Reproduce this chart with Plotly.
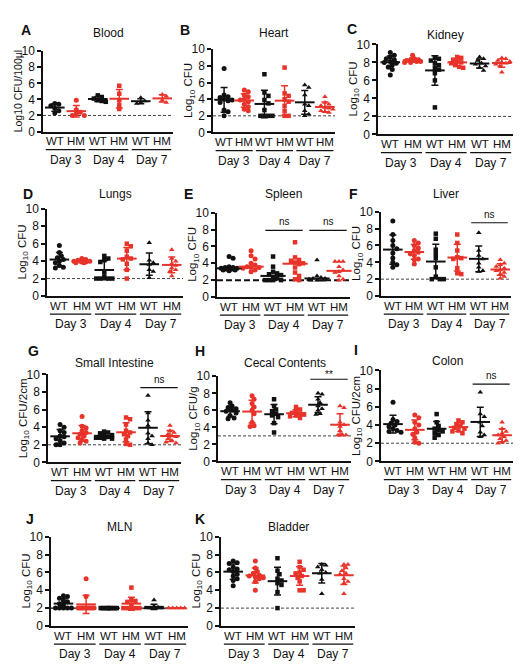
import numpy as np
import plotly.graph_objects as go

W, H = 522, 668

GROUP_LABELS = ["WT", "HM", "WT", "HM", "WT", "HM"]
DAY_LABELS = ["Day 3", "Day 4", "Day 7"]
SYMBOLS = ["circle", "circle", "square", "square", "triangle-up", "triangle-up"]
BLACK = "#111111"
RED = "#e8332a"
COLORS = [BLACK, RED, BLACK, RED, BLACK, RED]

# values (log10 CFU) per group: WT d3, HM d3, WT d4, HM d4, WT d7, HM d7
blood = [[3.5, 3.4, 3.2, 2.9, 2.6, 2.3], [3.9, 2.7, 2.4, 2.2, 2.0, 2.0],
         [4.5, 4.3, 4.1, 3.9, 3.7, 3.8], [5.7, 4.7, 3.9, 3.3, 2.8],
         [4.2, 3.8, 3.6, 3.5], [4.6, 4.4, 3.9, 3.6]]
heart = [[7.7, 4.5, 4.3, 4.2, 4.0, 3.9, 3.8, 3.6, 2.7, 2.5, 2.0],
         [5.1, 4.9, 4.5, 4.3, 4.0, 3.9, 3.7, 3.4, 3.1, 2.8, 2.6],
         [7.0, 4.8, 4.4, 3.9, 3.5, 2.7, 2.0, 2.0, 2.0, 2.0],
         [7.8, 4.7, 4.4, 4.0, 3.7, 3.2, 2.6, 2.0, 2.0],
         [5.7, 5.4, 4.5, 3.4, 3.2, 2.6, 2.2, 2.0],
         [4.3, 3.6, 3.4, 3.2, 3.0, 2.9, 2.8, 2.6, 2.5, 2.4]]
kidney = [[9.1, 8.8, 8.6, 8.4, 8.3, 8.1, 8.0, 7.9, 7.7, 7.5, 7.2, 6.6],
          [8.8, 8.4, 8.3, 8.3, 8.2, 8.2, 8.1, 8.1, 8.0, 8.0],
          [8.5, 8.4, 8.2, 7.9, 7.7, 7.4, 7.2, 6.8, 6.0, 3.0],
          [8.6, 8.5, 8.3, 8.1, 8.0, 7.9, 7.7, 7.5, 7.4],
          [8.6, 8.4, 8.2, 7.9, 7.8, 7.6, 7.4, 7.1],
          [8.5, 8.4, 8.2, 8.1, 8.0, 7.9, 7.8, 7.6, 6.9]]
lungs = [[5.8, 5.0, 4.6, 4.4, 4.2, 4.0, 3.8, 3.5, 3.3, 3.2],
         [4.3, 4.1, 4.0, 4.0, 3.9, 3.9, 3.8, 4.2, 3.8],
         [4.6, 4.3, 4.1, 3.9, 2.7, 2.2, 2.0, 2.0, 2.0, 2.0],
         [6.0, 5.7, 5.2, 4.5, 4.3, 4.2, 3.7, 3.0, 2.0],
         [6.1, 4.1, 3.8, 3.6, 3.0, 2.8, 2.1],
         [5.3, 4.3, 4.0, 3.7, 3.5, 3.2, 3.0, 2.8, 2.3]]
spleen = [[4.8, 4.6, 3.6, 3.5, 3.5, 3.4, 3.4, 3.3, 3.3, 3.2, 3.2, 3.1],
          [5.5, 4.9, 4.5, 4.0, 3.8, 3.6, 3.5, 3.5, 3.4, 3.2, 3.0],
          [4.8, 3.6, 3.0, 2.8, 2.7, 2.6, 2.4, 2.2, 2.0, 2.0, 2.0, 2.0],
          [6.5, 4.7, 4.4, 4.3, 4.1, 4.0, 3.9, 3.5, 2.9, 2.5, 2.1, 2.0],
          [4.4, 2.5, 2.3, 2.2, 2.2, 2.1, 2.0, 2.0, 2.0],
          [4.2, 4.2, 4.2, 3.6, 3.2, 3.0, 2.9, 2.5, 2.1, 2.0]]
liver = [[8.9, 7.3, 6.6, 6.0, 5.6, 5.1, 4.5, 4.0, 3.7, 3.4],
         [6.6, 6.3, 6.0, 5.7, 5.4, 5.2, 5.0, 4.8, 4.4, 4.3, 3.8],
         [7.4, 6.8, 5.5, 5.0, 4.5, 3.4, 2.3, 2.0, 2.0, 2.0],
         [7.3, 6.3, 5.4, 4.6, 4.5, 4.4, 3.3, 2.7, 2.6],
         [7.5, 5.4, 4.8, 4.4, 3.9, 3.4, 3.0, 2.9],
         [4.3, 3.9, 3.7, 3.5, 3.3, 3.1, 3.0, 2.8, 2.6, 2.3, 2.1]]
small_intestine = [[4.3, 4.0, 3.6, 3.4, 3.0, 2.9, 2.7, 2.5, 2.2, 2.0, 2.0],
                   [5.2, 4.1, 3.9, 3.6, 3.4, 3.2, 3.0, 2.8, 2.6, 2.4, 2.2],
                   [3.5, 3.4, 3.3, 3.1, 3.0, 2.9, 2.8, 2.8, 2.7, 2.7],
                   [5.1, 4.9, 4.3, 3.6, 3.4, 3.2, 3.0, 2.6, 2.0, 2.1],
                   [7.6, 5.6, 4.8, 4.2, 3.3, 3.0, 2.7, 2.2, 2.0],
                   [4.2, 3.6, 3.4, 3.2, 3.0, 2.9, 2.7, 2.5, 2.3, 2.2]]
cecal = [[6.9, 6.5, 6.3, 6.2, 6.0, 5.9, 5.7, 5.4, 5.1, 5.0],
         [7.7, 7.3, 6.8, 6.4, 6.0, 5.6, 4.6, 4.2, 4.1],
         [7.3, 6.5, 6.1, 5.9, 5.6, 5.4, 5.2, 4.5, 3.4],
         [6.4, 6.1, 5.9, 5.7, 5.6, 5.5, 5.4, 5.3, 5.1],
         [8.0, 7.9, 7.3, 6.9, 6.5, 6.2, 6.0, 5.6, 5.5],
         [6.5, 6.3, 4.6, 4.3, 4.1, 3.6, 3.2, 3.1, 3.1]]
colon = [[6.5, 4.6, 4.4, 4.2, 4.0, 3.8, 3.6, 3.4, 3.3, 3.2],
         [5.1, 4.8, 4.3, 4.0, 3.6, 3.2, 3.0, 2.6, 2.1, 2.0],
         [5.2, 4.3, 3.9, 3.6, 3.4, 3.3, 3.1, 2.9, 2.6],
         [4.5, 4.3, 4.1, 3.9, 3.7, 3.6, 3.4, 3.3, 3.1],
         [7.6, 5.2, 4.9, 4.3, 3.9, 3.2, 2.9, 2.7],
         [4.3, 3.6, 3.3, 3.1, 2.9, 2.7, 2.5, 2.3, 2.1, 2.0]]
mln = [[3.4, 3.3, 3.1, 2.8, 2.7, 2.5, 2.3, 2.0, 2.0, 2.0, 2.0, 2.0],
       [5.3, 3.3, 2.0, 2.0, 2.0, 2.0, 2.0, 2.0, 2.0, 2.0, 2.0],
       [2.0, 2.0, 2.0, 2.0, 2.0, 2.0, 2.0, 2.0, 2.0, 2.0],
       [4.3, 2.9, 2.8, 2.7, 2.3, 2.0, 2.0, 2.0, 2.0, 2.0],
       [2.9, 2.2, 2.1, 2.0, 2.0, 2.0, 2.0, 2.0, 2.0],
       [2.0, 2.0, 2.0, 2.0, 2.0]]
bladder = [[7.3, 7.1, 7.0, 6.6, 6.4, 6.3, 6.1, 5.8, 5.6, 5.3, 5.1, 4.5],
           [7.3, 6.5, 6.1, 5.9, 5.7, 5.6, 5.5, 5.4, 5.3, 5.0, 4.0],
           [7.6, 6.2, 5.8, 5.3, 5.1, 4.8, 4.6, 3.8, 2.0],
           [7.2, 6.6, 6.3, 5.9, 5.6, 5.4, 5.0, 4.0, 4.0, 6.0],
           [6.9, 6.8, 6.6, 6.3, 6.0, 5.9, 5.2, 3.6],
           [6.9, 6.9, 6.5, 6.2, 5.9, 5.8, 5.3, 5.0, 4.8, 3.6]]

LOG = "Log<sub>10</sub> CFU"
panels = [
    dict(letter="A", lpos=(18, 15), title="Blood", ty=18, ylabel="Log10 CFU/100µl", data=blood,
         box=(35, 165, 37, 119), lod=2, sig=[], ylx=25, ylfs=10.5),
    dict(letter="B", lpos=(177, 15), title="Heart", ty=18, ylabel=LOG, data=heart,
         box=(205, 327, 35, 120), lod=2, sig=[]),
    dict(letter="C", lpos=(344, 14), title="Kidney", ty=20, ylabel=LOG, data=kidney,
         box=(370, 505, 30, 122), lod=2, sig=[]),
    dict(letter="D", lpos=(20, 183), title="Lungs", ty=183, ylabel=LOG, data=lungs,
         box=(39, 175, 198, 287), lod=2, sig=[]),
    dict(letter="E", lpos=(180, 183), title="Spleen", ty=183, ylabel=LOG, data=spleen,
         box=(209, 342, 202, 288), lod=2, sig=[(2, 7.9, "ns"), (4, 7.9, "ns")], median=True),
    dict(letter="F", lpos=(345, 183), title="Liver", ty=183, ylabel=LOG, data=liver,
         box=(373, 503, 201, 287), lod=2, sig=[(4, 8.7, "ns")]),
    dict(letter="G", lpos=(25, 343), title="Small Intestine", ty=355, ylabel=LOG + "/2cm",
         data=small_intestine, box=(40, 173, 367, 457), lod=2, sig=[(4, 8.5, "ns")]),
    dict(letter="H", lpos=(192, 343), title="Cecal Contents", ty=355, ylabel=LOG + "/g", data=cecal,
         box=(210, 343, 369, 456), lod=3, sig=[(4, 9.65, "**")]),
    dict(letter="I", lpos=(348, 342), title="Colon", ty=353, ylabel=LOG + "/2cm", data=colon,
         box=(373, 505, 363, 456), lod=2, sig=[(4, 8.5, "ns")]),
    dict(letter="J", lpos=(22, 515), title="MLN", ty=523, ylabel=LOG, data=mln,
         box=(43, 180, 533, 624), lod=2, sig=[], dashdot=True),
    dict(letter="K", lpos=(192, 515), title="Bladder", ty=523, ylabel=LOG, data=bladder,
         box=(213, 347, 533, 624), lod=2, sig=[]),
]

XR = [-0.55, 5.5]
FONT = "Liberation Sans, Arial, Helvetica, sans-serif"
TXT = 11.5


def px_x(p):
    return p / W


def px_y(p):
    return 1 - p / H


def swarm(vals, ppu_x, ppu_y, d=4.0, step=2.0, maxoff=8.0):
    vals = np.asarray(vals, float)
    order = np.argsort(-vals, kind="stable")
    cands = [0.0]
    k = 1
    while k * step <= maxoff:
        cands += [k * step, -k * step]
        k += 1
    placed = []
    offs = np.zeros(len(vals))
    for i in order:
        yv = vals[i] * ppu_y
        chosen = None
        bestc, bestd = 0.0, -1
        for c in cands:
            md = min([np.hypot(c - px, yv - py) for px, py in placed] + [1e9])
            if md >= d:
                chosen = c
                break
            if md > bestd:
                bestd, bestc = md, c
        if chosen is None:
            chosen = bestc
        placed.append((chosen, yv))
        offs[i] = chosen / ppu_x
    return offs


fig = go.Figure()
shapes = []
annotations = []
layout_axes = {}

for n, p in enumerate(panels, start=1):
    xa = "x" if n == 1 else f"x{n}"
    ya = "y" if n == 1 else f"y{n}"
    l, r, t, b = p["box"]
    ppu_x = (r - l) / (XR[1] - XR[0])
    ppu_y = (b - t) / 10.0
    layout_axes["xaxis" if n == 1 else f"xaxis{n}"] = dict(
        domain=[px_x(l), px_x(r)], anchor=ya, range=XR, showgrid=False, zeroline=False,
        showline=True, linewidth=1.5, linecolor=BLACK, ticks="", showticklabels=False,
        fixedrange=True)
    layout_axes["yaxis" if n == 1 else f"yaxis{n}"] = dict(
        domain=[px_y(b), px_y(t)], anchor=xa, range=[0, 10], showgrid=False, zeroline=False,
        showline=True, linewidth=1.5, linecolor=BLACK, ticks="outside", ticklen=4, tickwidth=1.5,
        tickcolor=BLACK, tickvals=[0, 2, 4, 6, 8, 10],
        tickfont=dict(size=12, color=BLACK, family=FONT), fixedrange=True)

    # limit of detection line
    if p.get("dashdot"):
        dash, lw, lc = "dashdot", 1.2, BLACK
    elif p.get("median"):
        dash, lw, lc = "6px,3px", 2, BLACK
    else:
        dash, lw, lc = "3px,2px", 1, "#444444"
    shapes.append(dict(type="line", xref=f"{xa} domain", yref=ya, x0=0, x1=1, y0=p["lod"], y1=p["lod"],
                       line=dict(color=lc, width=lw, dash=dash), layer="below"))

    for g, vals in enumerate(p["data"]):
        offs = swarm(vals, ppu_x, ppu_y)
        fig.add_trace(go.Scatter(
            x=g + offs, y=vals, mode="markers", xaxis=xa, yaxis=ya, showlegend=False,
            cliponaxis=False,
            marker=dict(symbol=SYMBOLS[g], color=COLORS[g],
                        size=4.5 if SYMBOLS[g] == "square" else 5, line=dict(width=0))))
    for g, vals in enumerate(p["data"]):
        v = np.asarray(vals, float)
        if p.get("median"):
            fig.add_trace(go.Scatter(
                x=[g], y=[float(np.median(v))], mode="markers", xaxis=xa, yaxis=ya, showlegend=False,
                cliponaxis=False,
                marker=dict(symbol="line-ew", size=18, color=COLORS[g], line=dict(width=2, color=COLORS[g]))))
        else:
            fig.add_trace(go.Scatter(
                x=[g], y=[float(v.mean())], mode="markers", xaxis=xa, yaxis=ya, showlegend=False,
                cliponaxis=False,
                marker=dict(symbol="line-ew", size=14, color=COLORS[g], line=dict(width=2, color=COLORS[g])),
                error_y=dict(type="data", array=[float(v.std(ddof=1))], width=3.5, thickness=1.5,
                             color=COLORS[g])))

    # group labels
    for g in range(6):
        annotations.append(dict(text=GROUP_LABELS[g], xref=xa, yref="paper", x=g, y=px_y(b + 10),
                                xanchor="center", yanchor="middle", showarrow=False,
                                font=dict(size=TXT, color=BLACK, family=FONT)))
    # day underlines and labels
    for d in range(3):
        g0 = 2 * d
        shapes.append(dict(type="line", xref=xa, yref="paper", x0=g0 - 0.42, x1=g0 + 1.42,
                           y0=px_y(b + 18.5), y1=px_y(b + 18.5), line=dict(color=BLACK, width=1.2)))
        annotations.append(dict(text=DAY_LABELS[d], xref=xa, yref="paper", x=g0 + 0.5, y=px_y(b + 29),
                                xanchor="center", yanchor="middle", showarrow=False,
                                font=dict(size=12, color=BLACK, family=FONT)))
    # significance
    for g0, lvl, txt in p["sig"]:
        shapes.append(dict(type="line", xref=xa, yref=ya, x0=g0 - 0.35, x1=g0 + 1.35, y0=lvl, y1=lvl,
                           line=dict(color=BLACK, width=1.2)))
        annotations.append(dict(text=txt, xref=xa, yref=ya, x=g0 + 0.5, y=lvl,
                                yshift=-3 if txt == "**" else 1,
                                xanchor="center", yanchor="bottom", showarrow=False,
                                font=dict(size=10, color=BLACK, family=FONT)))
    # title
    annotations.append(dict(text=p["title"], xref="paper", yref="paper", x=px_x((l + r) / 2),
                            y=px_y(p["ty"]), xanchor="center", yanchor="middle", showarrow=False,
                            font=dict(size=12, color=BLACK, family=FONT)))
    # panel letter
    annotations.append(dict(text="<b>%s</b>" % p["letter"], xref="paper", yref="paper",
                            x=px_x(p["lpos"][0]), y=px_y(p["lpos"][1]), xanchor="center",
                            yanchor="middle", showarrow=False,
                            font=dict(size=14, color=BLACK, family=FONT)))
    # y title
    annotations.append(dict(text=p["ylabel"], xref="paper", yref="paper", x=px_x(l - p.get("ylx", 24)),
                            y=px_y((t + b) / 2), xanchor="center", yanchor="middle", textangle=-90,
                            showarrow=False, font=dict(size=p.get("ylfs", 11.5), color=BLACK, family=FONT)))

fig.update_layout(width=W, height=H, margin=dict(l=0, r=0, t=0, b=0), paper_bgcolor="white",
                  plot_bgcolor="white", shapes=shapes, annotations=annotations,
                  font=dict(family=FONT, color=BLACK), **layout_axes)
fig.write_html("out.html")
